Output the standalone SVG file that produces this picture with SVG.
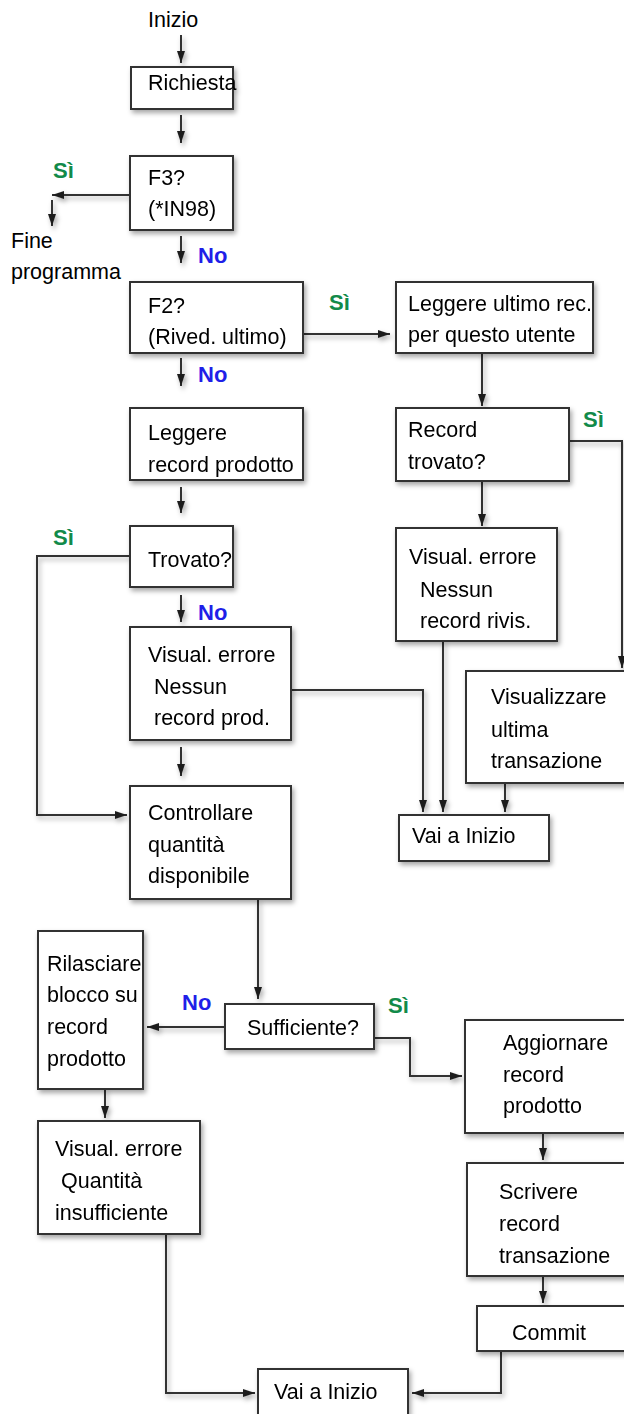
<svg xmlns="http://www.w3.org/2000/svg" width="624" height="1414" viewBox="0 0 624 1414">
  <defs>
    <filter id="shadow" x="-20%" y="-20%" width="140%" height="140%">
      <feDropShadow dx="2" dy="3" stdDeviation="2.5" flood-color="#000" flood-opacity="0.35"/>
    </filter>
    <marker id="arrow" viewBox="0 0 12 8" refX="12" refY="4" markerWidth="12" markerHeight="8" markerUnits="userSpaceOnUse" orient="auto">
      <path d="M0,0 L12,4 L0,8 z" fill="#1e1e1e"/>
    </marker>
    <style>
      .box { fill: #ffffff; stroke: #333333; stroke-width: 2; }
      .node { filter: url(#shadow); }
      .t { font-family: "Liberation Sans", Arial, sans-serif; font-size: 21.5px; fill: #000000; }
      .yes { font-family: "Liberation Sans", Arial, sans-serif; font-size: 22px; font-weight: bold; fill: #128a4a; }
      .no { font-family: "Liberation Sans", Arial, sans-serif; font-size: 22px; font-weight: bold; fill: #1f1fe8; }
      .edge { fill: none; stroke: #333333; stroke-width: 2; marker-end: url(#arrow); }
    </style>
  </defs>

  <rect width="624" height="1414" fill="#ffffff"/>

  <!-- connectors -->
  <g id="connectors" filter="url(#shadow)">
    <path class="edge" d="M181,35 V63"/>
    <path class="edge" d="M181,115 V143"/>
    <path class="edge" d="M130,195 H52"/>
    <path class="edge" d="M52,200 V226"/>
    <path class="edge" d="M181,236 V263"/>
    <path class="edge" d="M303,334 H390"/>
    <path class="edge" d="M181,358 V386"/>
    <path class="edge" d="M482,353 V406"/>
    <path class="edge" d="M569,441 H622 V668"/>
    <path class="edge" d="M482,481 V526"/>
    <path class="edge" d="M181,487 V513"/>
    <path class="edge" d="M130,556 H37 V815 H127"/>
    <path class="edge" d="M181,595 V622"/>
    <path class="edge" d="M181,747 V776"/>
    <path class="edge" d="M291,690 H423 V812"/>
    <path class="edge" d="M443,641 V812"/>
    <path class="edge" d="M505,783 V812"/>
    <path class="edge" d="M258,899 V999"/>
    <path class="edge" d="M225,1027 H147"/>
    <path class="edge" d="M374,1038 H410 V1076 H462"/>
    <path class="edge" d="M105,1089 V1118"/>
    <path class="edge" d="M166,1234 V1393 H255"/>
    <path class="edge" d="M543,1133 V1160"/>
    <path class="edge" d="M543,1276 V1303"/>
    <path class="edge" d="M501,1351 V1393 H412"/>
  </g>

  <!-- branch labels -->
  <g id="labels">
    <text class="yes" x="53" y="178">Sì</text>
    <text class="no" x="198" y="263">No</text>
    <text class="yes" x="329" y="310">Sì</text>
    <text class="no" x="198" y="382">No</text>
    <text class="yes" x="583" y="427">Sì</text>
    <text class="yes" x="53" y="545">Sì</text>
    <text class="no" x="198" y="620">No</text>
    <text class="no" x="182" y="1010">No</text>
    <text class="yes" x="388" y="1013">Sì</text>
  </g>

  <!-- terminals -->
  <g id="start">
    <text class="t" x="148" y="27">Inizio</text>
  </g>
  <g id="end-program">
    <text class="t" x="11" y="248">Fine</text>
    <text class="t" x="11" y="279">programma</text>
  </g>

  <!-- nodes -->
  <g id="richiesta" class="node">
    <rect class="box" x="131" y="67" width="102" height="42"/>
    <text class="t" x="148" y="90">Richiesta</text>
  </g>
  <g id="f3" class="node">
    <rect class="box" x="130" y="156" width="103" height="74"/>
    <text class="t" x="148" y="185">F3?</text>
    <text class="t" x="148" y="216">(*IN98)</text>
  </g>
  <g id="f2" class="node">
    <rect class="box" x="130" y="282" width="173" height="71"/>
    <text class="t" x="148" y="313">F2?</text>
    <text class="t" x="148" y="344">(Rived. ultimo)</text>
  </g>
  <g id="leggere-ultimo" class="node">
    <rect class="box" x="396" y="282" width="197" height="71"/>
    <text class="t" x="408" y="311">Leggere ultimo rec.</text>
    <text class="t" x="408" y="342">per questo utente</text>
  </g>
  <g id="record-trovato" class="node">
    <rect class="box" x="396" y="408" width="173" height="73"/>
    <text class="t" x="408" y="437">Record</text>
    <text class="t" x="408" y="469">trovato?</text>
  </g>
  <g id="leggere-prodotto" class="node">
    <rect class="box" x="130" y="408" width="173" height="72"/>
    <text class="t" x="148" y="440">Leggere</text>
    <text class="t" x="148" y="472">record prodotto</text>
  </g>
  <g id="trovato" class="node">
    <rect class="box" x="130" y="526" width="103" height="61"/>
    <text class="t" x="148" y="567">Trovato?</text>
  </g>
  <g id="errore-prod" class="node">
    <rect class="box" x="130" y="627" width="161" height="113"/>
    <text class="t" x="148" y="662">Visual. errore</text>
    <text class="t" x="154" y="694">Nessun</text>
    <text class="t" x="154" y="725">record prod.</text>
  </g>
  <g id="controllare" class="node">
    <rect class="box" x="130" y="786" width="161" height="113"/>
    <text class="t" x="148" y="820">Controllare</text>
    <text class="t" x="148" y="852">quantità</text>
    <text class="t" x="148" y="883">disponibile</text>
  </g>
  <g id="errore-rivis" class="node">
    <rect class="box" x="396" y="528" width="161" height="113"/>
    <text class="t" x="409" y="564">Visual. errore</text>
    <text class="t" x="420" y="597">Nessun</text>
    <text class="t" x="420" y="628">record rivis.</text>
  </g>
  <g id="visualizzare" class="node">
    <rect class="box" x="466" y="671" width="180" height="112"/>
    <text class="t" x="491" y="704">Visualizzare</text>
    <text class="t" x="491" y="737">ultima</text>
    <text class="t" x="491" y="768">transazione</text>
  </g>
  <g id="vai-inizio-1" class="node">
    <rect class="box" x="399" y="815" width="150" height="46"/>
    <text class="t" x="412" y="843">Vai a Inizio</text>
  </g>
  <g id="sufficiente" class="node">
    <rect class="box" x="225" y="1004" width="149" height="45"/>
    <text class="t" x="247" y="1035">Sufficiente?</text>
  </g>
  <g id="rilasciare" class="node">
    <rect class="box" x="38" y="931" width="105" height="158"/>
    <text class="t" x="47" y="971">Rilasciare</text>
    <text class="t" x="47" y="1002">blocco su</text>
    <text class="t" x="47" y="1034">record</text>
    <text class="t" x="47" y="1066">prodotto</text>
  </g>
  <g id="errore-quantita" class="node">
    <rect class="box" x="38" y="1121" width="162" height="113"/>
    <text class="t" x="55" y="1156">Visual. errore</text>
    <text class="t" x="61" y="1188">Quantità</text>
    <text class="t" x="55" y="1220">insufficiente</text>
  </g>
  <g id="aggiornare" class="node">
    <rect class="box" x="465" y="1020" width="180" height="113"/>
    <text class="t" x="503" y="1050">Aggiornare</text>
    <text class="t" x="503" y="1082">record</text>
    <text class="t" x="503" y="1113">prodotto</text>
  </g>
  <g id="scrivere" class="node">
    <rect class="box" x="467" y="1163" width="180" height="113"/>
    <text class="t" x="499" y="1199">Scrivere</text>
    <text class="t" x="499" y="1231">record</text>
    <text class="t" x="499" y="1263">transazione</text>
  </g>
  <g id="commit" class="node">
    <rect class="box" x="477" y="1306" width="170" height="45"/>
    <text class="t" x="512" y="1340">Commit</text>
  </g>
  <g id="vai-inizio-2" class="node">
    <rect class="box" x="258" y="1369" width="150" height="60"/>
    <text class="t" x="274" y="1399">Vai a Inizio</text>
  </g>
</svg>
